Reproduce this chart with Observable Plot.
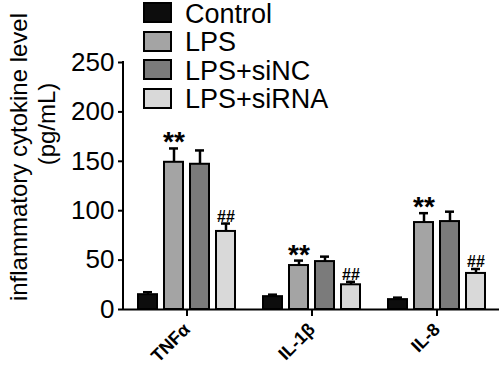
<!DOCTYPE html>
<html><head><meta charset="utf-8">
<script src="https://cdn.jsdelivr.net/npm/d3@7"></script>
<script src="https://cdn.jsdelivr.net/npm/@observablehq/plot@0.6"></script>
<style>
body{margin:0;background:#fff;}
#wrap{position:relative;width:500px;height:367px;font-family:"Liberation Sans",Arial,sans-serif;overflow:hidden;color:#000}
#wrap svg{position:absolute;left:0;top:0}
.lg-sw{position:absolute;width:29px;height:21px;box-sizing:border-box;border:2px solid #000}
.lg-tx{position:absolute;font-size:27px;line-height:26px;white-space:nowrap}
.ylab{position:absolute;font-size:24px;line-height:24px;white-space:nowrap;transform:translate(-50%,-50%) rotate(-90deg)}
</style></head><body><div id="wrap"></div>
<script>
const groups = ["TNFα", "IL-1β", "IL-8"];
const conditions = ["Control", "LPS", "LPS+siNC", "LPS+siRNA"];
const colors = ["#0d0d0d", "#a4a4a4", "#7b7b7b", "#d9d9d9"];
const tnfMean = [15, 149, 147, 79];
const tnfErr = [2.5, 14, 14, 8];
const il1Mean = [13, 44.5, 48.5, 25];
const il1Err = [2, 5, 5, 3];
const il8Mean = [10, 88, 89, 36.5];
const il8Err = [2, 9.5, 10, 4.5];
const notes = ["", "**", "", "##"];
const yTicks = [0, 50, 100, 150, 200, 250];
const yLabel = ["inflammatory cytokine level", "(pg/mL)"];

const means = [tnfMean, il1Mean, il8Mean];
const errs = [tnfErr, il1Err, il8Err];
const data = groups.flatMap((g, gi) => conditions.map((c, ci) => ({
  group: g, cond: c, mean: means[gi][ci], top: means[gi][ci] + errs[gi][ci], note: notes[ci]
})));

const chart = Plot.plot({
  width: 500, height: 367,
  marginLeft: 123, marginRight: 1, marginTop: 62, marginBottom: 58,
  style: {fontFamily: "Liberation Sans, Arial, sans-serif", background: "transparent", color: "#000"},
  fx: {domain: groups, paddingInner: 0, paddingOuter: 0, label: null},
  x: {domain: conditions, paddingInner: 0.28, paddingOuter: 0.5, axis: null},
  y: {domain: [0, 250], axis: null},
  color: {domain: conditions, range: colors},
  marks: [
    Plot.axisY({ticks: yTicks, tickSize: 6, tickPadding: 4, fontSize: 26, strokeWidth: 2, label: null}),
    Plot.axisFx({anchor: "bottom", tickSize: 7, tickPadding: 10, tickRotate: -45, fontSize: 18, fontWeight: "bold", strokeWidth: 2, label: null}),
    Plot.barY(data, {fx: "group", x: "cond", y: "mean", fill: "cond", stroke: "#000", strokeWidth: 2}),
    Plot.ruleX(data, {fx: "group", x: "cond", y1: "mean", y2: "top", strokeWidth: 2.5}),
    Plot.tickY(data, {fx: "group", x: "cond", y: "top", strokeWidth: 2.5, insetLeft: 5, insetRight: 5}),
    Plot.ruleY([0], {strokeWidth: 2}),
    Plot.text(data, {filter: d => d.note === "**", fx: "group", x: "cond", y: "top", text: "note", fontSize: 28, fontWeight: "bold", lineAnchor: "bottom", dy: 3}),
    Plot.text(data, {filter: d => d.note === "##", fx: "group", x: "cond", y: "top", text: "note", fontSize: 16, fontWeight: "bold", lineAnchor: "bottom", dy: -2})
  ]
});
const wrap = document.getElementById("wrap");
wrap.appendChild(chart);

// y axis line drawn from the plot's own y scale
const ys = chart.scale("y");
d3.select(chart).append("line")
  .attr("x1", 123).attr("x2", 123)
  .attr("y1", ys.apply(0) + 1).attr("y2", ys.apply(250) - 1)
  .attr("stroke", "#000").attr("stroke-width", 2);

conditions.forEach((c, i) => {
  const top = 2 + i * 28.6;
  const sw = document.createElement("div");
  sw.className = "lg-sw";
  sw.style.left = "143px"; sw.style.top = top + "px"; sw.style.background = colors[i];
  wrap.appendChild(sw);
  const tx = document.createElement("div");
  tx.className = "lg-tx";
  tx.style.left = "185px"; tx.style.top = (top - 1.5) + "px";
  tx.textContent = c;
  wrap.appendChild(tx);
});

const ylPos = [[19, 157], [47, 124]];
yLabel.forEach((t, i) => {
  const d = document.createElement("div");
  d.className = "ylab";
  d.style.left = ylPos[i][0] + "px"; d.style.top = ylPos[i][1] + "px";
  d.textContent = t;
  wrap.appendChild(d);
});
</script></body></html>
